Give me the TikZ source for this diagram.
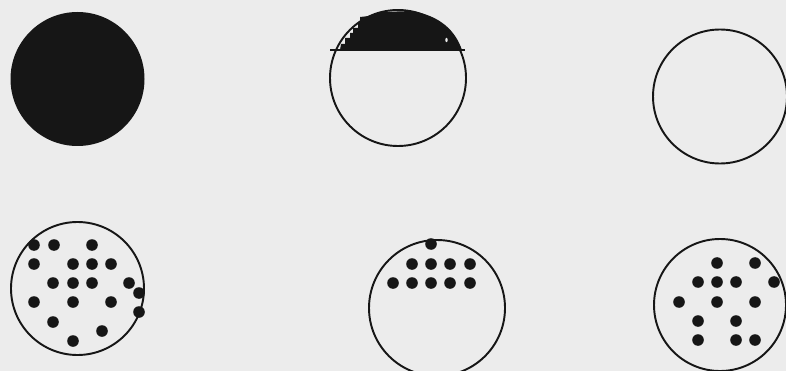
\documentclass[tikz,border=0pt]{standalone}
\usepackage{tikz}

\definecolor{paper}{RGB}{236,236,236}
\definecolor{ink}{RGB}{22,22,22}

\begin{document}
\begin{tikzpicture}[
  x=0.02cm, y=-0.02cm,
  ring/.style={draw=ink, line width=1.1pt},
  solid disc/.style={fill=ink},
  dot/.style={fill=ink},
  cut/.style={draw=ink, line width=1.1pt}
]
  \fill[paper] (0,0) rectangle (786,371);
  \useasboundingbox (0,0) rectangle (786,371);

  % top row
  \fill[solid disc] (77.5,79) circle [radius=67];

  \draw[ring] (398,78) circle [radius=68];
  \fill[ink] (340,50) -- (341,44) -- (345,44) -- (345,38) -- (350,38) -- (350,33)
    -- (353,33) -- (353,28) -- (358,28) -- (358,22) -- (360,22) -- (360,17)
    .. controls (370,16) .. (382,12) -- (412,11)
    .. controls (440,16) and (455,30) .. (462,50) -- cycle;
  \fill[paper] (446.5,40) ellipse [x radius=1.2, y radius=2.2];
  \draw[cut] (330,50) -- (465,50);

  \draw[ring] (720,96.5) circle [radius=67];

  % bottom row
  \draw[ring] (77.5,288.5) circle [radius=66.5];
  \foreach \px/\py in {34/245, 54/245, 92/245,
                       34/264, 73/264, 92/264, 111/264,
                       53/283, 73/283, 92/283, 129/283, 139/293,
                       34/302, 73/302, 111/302, 139/312,
                       53/322, 102/331, 73/341}
    \fill[dot] (\px,\py) circle [radius=5.8];

  \draw[ring] (437,308) circle [radius=68];
  \foreach \px/\py in {431/244,
                       412/264, 431/264, 450/264, 470/264,
                       393/283, 412/283, 431/283, 450/283, 470/283}
    \fill[dot] (\px,\py) circle [radius=5.8];

  \draw[ring] (720,305) circle [radius=66];
  \foreach \px/\py in {717/263, 755/263,
                       698/282, 717/282, 736/282, 774/282,
                       679/302, 717/302, 755/302,
                       698/321, 736/321,
                       698/340, 736/340, 755/340}
    \fill[dot] (\px,\py) circle [radius=5.8];
\end{tikzpicture}
\end{document}
